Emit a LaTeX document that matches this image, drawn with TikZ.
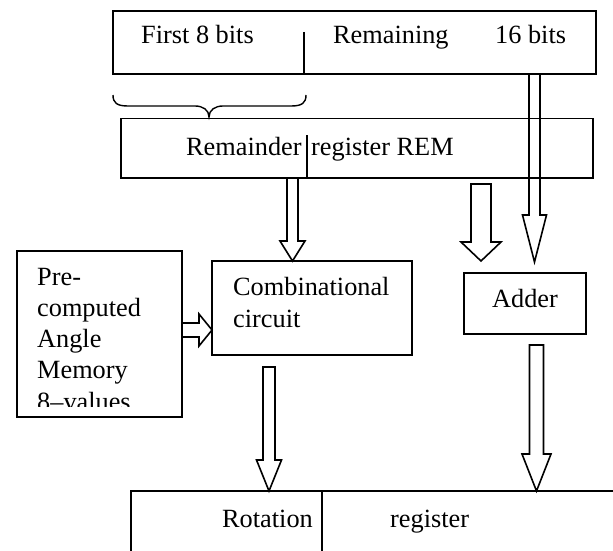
\documentclass[tikz,border=0pt]{standalone}
\usepackage{fontspec}
\setmainfont{Liberation Serif}
\usetikzlibrary{calc}
\tikzset{
  box/.style={draw, line width=1.8pt, inner sep=0pt, outer sep=0pt, anchor=north west},
  lbl/.style={inner sep=0pt, anchor=base west, font=\fontsize{26.3}{30}\selectfont},
  arr/.style={draw, line width=1.6pt, line join=miter},
  divider/.style={draw, line width=1.6pt},
  bracestyle/.style={draw, line width=1.4pt},
}
% vertical block arrow: #1 start, #2 tip, #3 shaft half width, #4 head half width, #5 head length, #6 closing
\newcommand{\vblock}[6]{%
  \path[arr] let \p1=(#1), \p2=(#2) in
    (\x2-#3,\y1) -- (\x2-#3,\y2+#5) -- (\x2-#4,\y2+#5) -- (\x2,\y2)
    -- (\x2+#4,\y2+#5) -- (\x2+#3,\y2+#5) -- (\x2+#3,\y1) #6;}
\begin{document}
\begin{tikzpicture}[x=1pt,y=-1pt]
\useasboundingbox (0,0) rectangle (613,551);
\clip (0,0) rectangle (613,551);

% boxes
\node[box, minimum width=483pt, minimum height=63.3pt] (top) at (112.7,10.7) {};
\node[box, minimum width=472pt, minimum height=59.5pt] (rem) at (121,118.5) {};
\node[box, minimum width=165pt, minimum height=166pt] (pre) at (17,251) {};
\node[box, minimum width=200pt, minimum height=94pt] (comb) at (212,261) {};
\node[box, minimum width=122pt, minimum height=61pt] (adder) at (464,273) {};
\node[box, minimum width=540pt, minimum height=120pt] (rot) at (131,491) {};

% dividers
\coordinate (topdiv) at (304,32);
\draw[divider] (topdiv) -- (topdiv |- top.south);
\coordinate (remdiv) at (307,135);
\draw[divider] (remdiv) -- (remdiv |- rem.south);
\coordinate (rotdiv) at (322,491);
\draw[divider] (rotdiv) -- (rotdiv |- rot.south);

% brace
\coordinate (brL) at (113,95);
\coordinate (brT) at (209,117);
\coordinate (brR) at (306,95);
\draw[bracestyle] (brL) .. controls (113,103) and (117,106) .. (128,106)
  -- (195,106) .. controls (203,106) and (209,110) .. (brT)
  .. controls (209,110) and (215,106) .. (223,106)
  -- (291,106) .. controls (302,106) and (306,103) .. (brR);

% texts
\node[lbl] (t1) at (141,44) {First 8 bits};
\node[lbl] (t2) at (333,44) {Remaining};
\node[lbl] (t3) at (495,44) {16 bits};
\node[lbl] (t4) at (186,155) {Remainder};
\node[lbl] (t5) at (311,155) {register REM};
\node[lbl] (t6) at (233,295) {Combinational};
\node[lbl] (t7) at (233,327) {circuit};
\node[lbl] (t8) at (492,307) {Adder};
\node[lbl] (t9) at (37,285) {Pre-};
\node[lbl] (t10) at (37,316) {computed};
\node[lbl] (t11) at (37,347) {Angle};
\node[lbl] (t12) at (37,378) {Memory};
\begin{scope}
  \clip (17,251) rectangle (182,406.5);
  \node[lbl] (t13) at (37,410) {8–values};
\end{scope}
\node[lbl] (t14) at (222,527) {Rotation};
\node[lbl] (t15) at (390,527) {register};

% arrows
\coordinate (lS) at (534.5,74);
\coordinate (lE) at (534.5,262);
\vblock{lS}{lE}{5.5pt}{12pt}{47pt}{}
\coordinate (aS) at (481,184);
\coordinate (aE) at (481,261);
\vblock{aS}{aE}{10pt}{20pt}{19pt}{-- cycle}
\coordinate (bS) at (292.5,178);
\coordinate (bE) at (bS |- comb.north);
\vblock{bS}{bE}{5.5pt}{12.5pt}{20pt}{}
\coordinate (cS) at (269,367);
\coordinate (cE) at (cS |- rot.north);
\vblock{cS}{cE}{6pt}{12.5pt}{31pt}{-- cycle}
\coordinate (dS) at (536.5,345);
\coordinate (dE) at (dS |- rot.north);
\vblock{dS}{dE}{7pt}{14.5pt}{37pt}{-- cycle}
\coordinate (hS) at (pre.east |- 0,330);
\coordinate (hE) at (comb.west |- 0,330);
\path[arr] let \p1=(hS), \p2=(hE) in
  (\x1,\y2+7pt) -- (\x2-13pt,\y2+7pt) -- (\x2-13pt,\y2+16pt) -- (\x2,\y2)
  -- (\x2-13pt,\y2-16pt) -- (\x2-13pt,\y2-7pt) -- (\x1,\y2-7pt);
\end{tikzpicture}
\end{document}
